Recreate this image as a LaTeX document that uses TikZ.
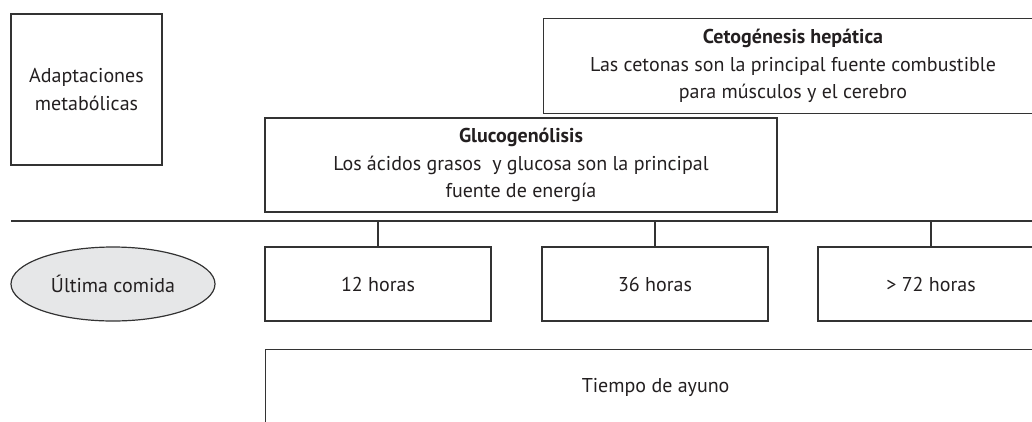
\documentclass[tikz,border=0pt]{standalone}
\usepackage{fontspec}
\setmainfont{PT Sans}
\usepackage{tikz}
\usetikzlibrary{shapes}
\definecolor{linegray}{HTML}{333333}
\definecolor{ovalgray}{HTML}{E6E7E8}
\definecolor{textgray}{HTML}{231F20}

\begin{document}
\begin{tikzpicture}[x=1pt,y=-1pt,line width=1.2pt]
          \tikzstyle{every node}=[font=\fontsize{20}{27.5}\selectfont,text=textgray]
          \tikzstyle{box}=[draw=linegray,rectangle,inner sep=0pt,align=center]
          \tikzstyle{hourbox}=[box,minimum width=226,minimum height=74]
          \useasboundingbox (0,0) rectangle (1032,421);
          \clip (0,0) rectangle (1032,421);
          % 
          \node [box,minimum width=151,minimum height=151] (adapt) at (86.5,89.5) {Adaptaciones\\metabólicas};
          \node [box,minimum width=500,minimum height=95,anchor=north west] (ceto) at (543,18) {};
          \node [align=center] (cetotxt) at (793,66) {\textbf{Cetogénesis hepática}\\Las cetonas son la principal fuente combustible\\para músculos y el cerebro};
          \node [box,minimum width=512,minimum height=94,fill=white] (gluco) at (521,165) {\textbf{Glucogenólisis}\\Los ácidos grasos\ \ y glucosa son la principal\\fuente de energía};
          % 
          \node [ellipse,draw=linegray,fill=ovalgray,minimum width=204,minimum height=74,inner sep=0pt] (comida) at (113,284) {Última comida};
          \node [hourbox] (h12) at (378,284) {12 horas};
          \node [hourbox] (h36) at (655,284) {36 horas};
          \node [hourbox] (h72) at (931,284) {> 72 horas};
          \node [box,minimum width=780,minimum height=76,anchor=north west] (ayuno) at (265,349) {Tiempo de ayuno};
          % 
          \coordinate (barL) at (11,221);
          \coordinate (barR) at (1040,221);
          \draw [linegray] (barL) -- (barR);
          \foreach \h in {h12,h36,h72}
            \draw [linegray] (\h.north |- barL) -- (\h.north);
        \end{tikzpicture}
\end{document}
